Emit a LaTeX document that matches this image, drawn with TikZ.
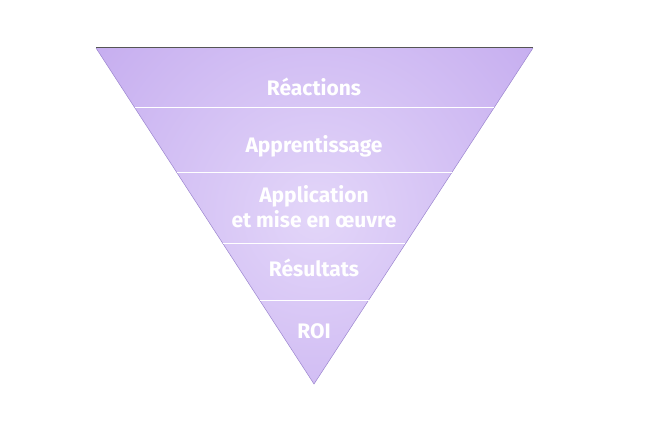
\documentclass[tikz,border=0pt]{standalone}
\usepackage{fontspec}
\setmainfont{Fira Sans}
\usetikzlibrary{calc}
\definecolor{innc}{HTML}{E3D6F9}
\definecolor{outc}{HTML}{A985E6}
\definecolor{topline}{HTML}{555555}
\definecolor{sidec}{HTML}{9C86CF}
\pgfdeclareradialshading{trishade}{\pgfpoint{0bp}{0bp}}{color(0bp)=(innc); color(50bp)=(outc)}
\tikzset{
  lbl/.style={text=white, font=\bfseries\fontsize{21}{25}\selectfont, align=center, inner sep=0pt},
  sep/.style={draw=white, line width=1pt},
}
\begin{document}
\begin{tikzpicture}[x=1pt,y=-1pt]
\useasboundingbox (0,0) rectangle (656,422);
\coordinate (L) at (96,48);
\coordinate (R) at (533,48);
\coordinate (A) at (314,384);
\begin{scope}
\clip (L) -- (R) -- (A) -- cycle;
\shade[shading=trishade] (316,215) circle (280);
\end{scope}
\draw[sidec, line width=0.5pt] (L) -- (A) -- (R);
\draw[topline, line width=1pt] (L) -- (R);
% separators
\foreach \y/\n in {108/a,173/b,244/c,300/d}{
  \pgfmathsetmacro{\t}{(\y-48)/336}
  \coordinate (s\n l) at ($(L)!\t!(A)$);
  \coordinate (s\n r) at ($(R)!\t!(A)$);
  \draw[sep] (s\n l) -- (s\n r);
}
\node[lbl] (t1) at (314,87) {Réactions};
\node[lbl] (t2) at (314,146) {Apprentissage};
\node[lbl] (t3) at (314,207) {Application\\et mise en œuvre};
\node[lbl] (t4) at (314,268) {Résultats};
\node[lbl] (t5) at (314,331) {ROI};
\end{tikzpicture}
\end{document}
